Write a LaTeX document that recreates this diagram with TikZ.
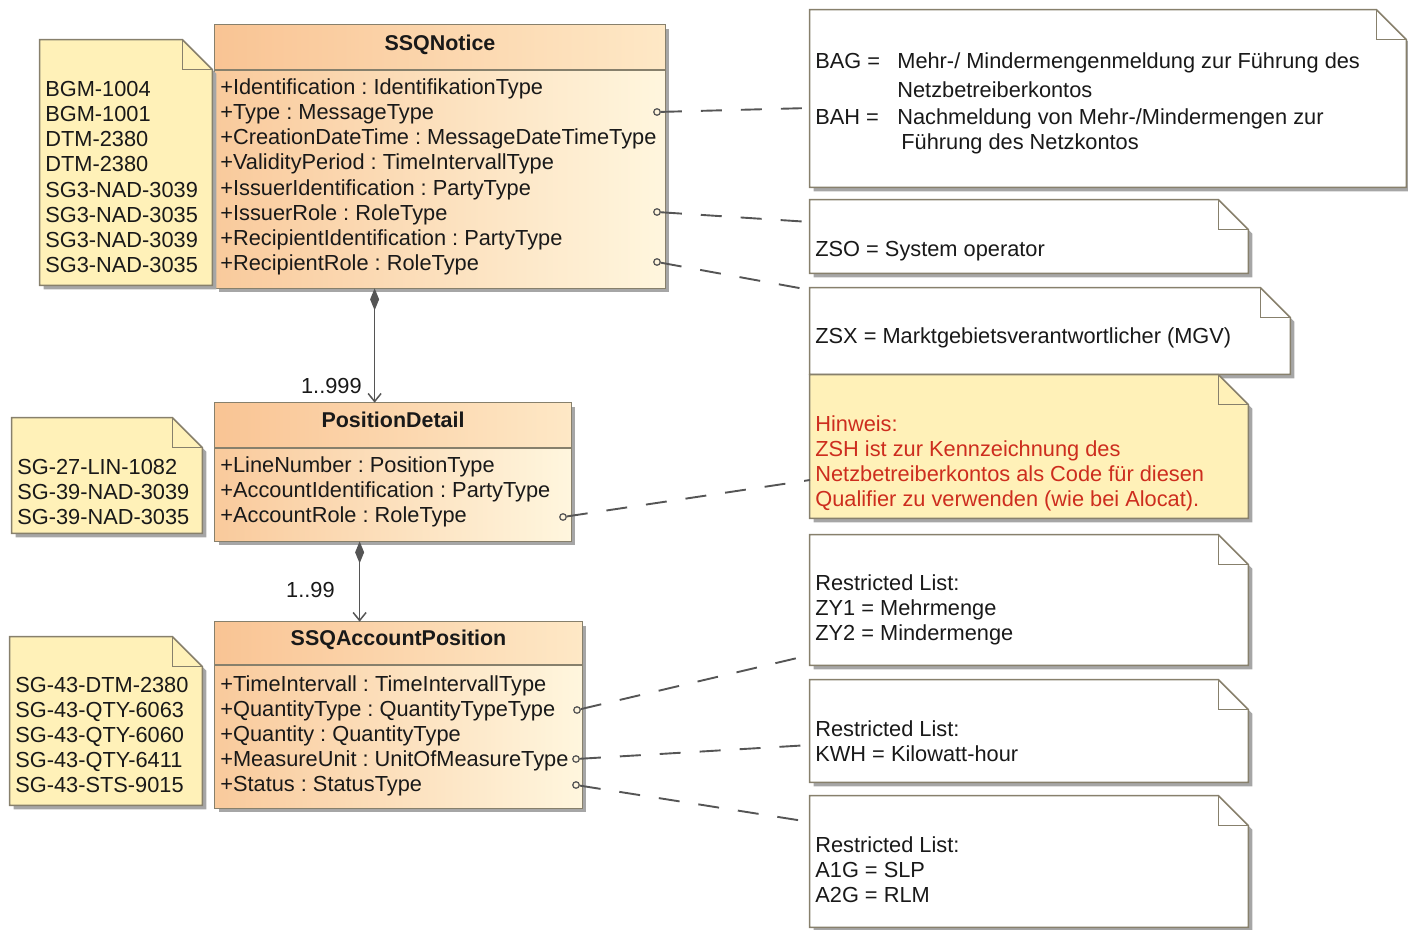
\documentclass[tikz,border=0pt]{standalone}
\usepackage{fontspec}
\setmainfont{Liberation Sans}
\usetikzlibrary{arrows.meta,fit,shadows}

\definecolor{clsleft}{RGB}{249,202,156}
\definecolor{clsright}{RGB}{255,246,222}
\definecolor{hdrleft}{RGB}{249,196,148}
\definecolor{hdrright}{RGB}{254,232,198}
\definecolor{noteyellow}{RGB}{255,241,184}
\definecolor{frame}{RGB}{135,128,108}
\definecolor{linegray}{RGB}{85,85,85}
\definecolor{hintred}{RGB}{205,45,30}

% note with folded corner, drawn round a fitted node
\newcommand{\notepath}[2]{%
  \path[draw=frame, line width=0.03cm, fill=#2,
    drop shadow={shadow xshift=0.08cm, shadow yshift=-0.08cm, fill=black!35, opacity=1}]
    (#1.north west) -- ([xshift=-0.6cm]#1.north east) -- ([yshift=-0.6cm]#1.north east)
    -- (#1.south east) -- (#1.south west) -- cycle;
  \draw[frame, line width=0.03cm] ([xshift=-0.6cm]#1.north east) |- ([yshift=-0.6cm]#1.north east);
}

\begin{document}
\frenchspacing
\begin{tikzpicture}[x=0.02cm, y=-0.02cm,
    txt/.style = {anchor=base west, inner sep=0, text=black!90,
                  font=\fontsize{12.4}{14}\selectfont},
    title/.style = {txt, anchor=base, font=\fontsize{12.2}{14}\selectfont\bfseries},
    area/.style = {inner sep=0},
    cls/.style = {inner sep=0, left color=clsleft, right color=clsright,
                  drop shadow={shadow xshift=0.08cm, shadow yshift=-0.08cm, fill=black!35, opacity=1}},
    hdr/.style = {left color=hdrleft, right color=hdrright},
    edge/.style = {draw=frame, line width=0.03cm},
    pinmark/.style = {circle, draw=linegray, line width=0.025cm, minimum size=0.13cm, inner sep=0},
    anno/.style = {draw=linegray, line width=0.038cm, dash pattern=on 0.42cm off 0.38cm},
    comp/.style = {draw=linegray, line width=0.03cm,
                   {Diamond[length=0.44cm, width=0.18cm, fill=linegray]}-{Straight Barb[length=0.16cm, width=0.26cm]}}]

\useasboundingbox (0,0) rectangle (1408,929);

% classes
\node[cls, fit={(215,25) (665,288)}] (notice) {};
\shade[hdr] (215,25) rectangle (665,70);
\draw[edge] (notice.north west) rectangle (notice.south east) (215,70) -- (665,70);
\node[title] (noticet) at ([yshift=-0.52cm]notice.north) {SSQNotice};
\foreach \a [count=\i from 0] in {+Identification : IdentifikationType, +Type : MessageType,
    +CreationDateTime : MessageDateTimeType, +ValidityPeriod : TimeIntervallType,
    +IssuerIdentification : PartyType, +IssuerRole : RoleType,
    +RecipientIdentification : PartyType, +RecipientRole : RoleType}
  \node[txt] (noticea\i) at (220,95+25*\i) {\a};

\node[cls, fit={(215,403) (571,541)}] (pdetail) {};
\shade[hdr] (215,403) rectangle (571,448);
\draw[edge] (pdetail.north west) rectangle (pdetail.south east) (215,448) -- (571,448);
\node[title] (pdetailt) at ([yshift=-0.5cm]pdetail.north) {PositionDetail};
\foreach \a [count=\i from 0] in {+LineNumber : PositionType,
    +AccountIdentification : PartyType, +AccountRole : RoleType}
  \node[txt] (pdetaila\i) at (220,472+25*\i) {\a};

\node[cls, fit={(215,622) (582,808)}] (accpos) {};
\shade[hdr] (215,622) rectangle (582,665);
\draw[edge] (accpos.north west) rectangle (accpos.south east) (215,665) -- (582,665);
\node[title] (accpost) at ([yshift=-0.48cm]accpos.north) {SSQAccountPosition};
\foreach \a [count=\i from 0] in {+TimeIntervall : TimeIntervallType,
    +QuantityType : QuantityTypeType, +Quantity : QuantityType,
    +MeasureUnit : UnitOfMeasureType, +Status : StatusType}
  \node[txt] (accposa\i) at (220,691+25*\i) {\a};

% compositions
\draw[comp] ([xshift=3.2cm]notice.south west) -- ([xshift=3.2cm]pdetail.north west);
\node[txt, anchor=base east] (mult1) at (362,393) {1..999};
\draw[comp] ([xshift=2.9cm]pdetail.south west) -- ([xshift=2.9cm]accpos.north west);
\node[txt, anchor=base east] (mult2) at (335,597) {1..99};

% segment notes
\node[area, fit={(40,40) (212,285)}] (lnote1) {};
\notepath{lnote1}{noteyellow}
\foreach \t [count=\i from 0] in {BGM-1004, BGM-1001, DTM-2380, DTM-2380,
    SG3-NAD-3039, SG3-NAD-3035, SG3-NAD-3039, SG3-NAD-3035}
  \node[txt] (lnote1t\i) at (45,97+25*\i) {\t};

\node[area, fit={(12,418) (202,533)}] (lnote2) {};
\notepath{lnote2}{noteyellow}
\foreach \t [count=\i from 0] in {SG-27-LIN-1082, SG-39-NAD-3039, SG-39-NAD-3035}
  \node[txt] (lnote2t\i) at (17,474+25*\i) {\t};

\node[area, fit={(10,637) (202,805)}] (lnote3) {};
\notepath{lnote3}{noteyellow}
\foreach \t [count=\i from 0] in {SG-43-DTM-2380, SG-43-QTY-6063, SG-43-QTY-6060,
    SG-43-QTY-6411, SG-43-STS-9015}
  \node[txt] (lnote3t\i) at (15,692+25*\i) {\t};

% code notes
\node[area, fit={(810,10) (1406,187)}] (rnote1) {};
\notepath{rnote1}{white}
\node[txt] (rnote1a) at (815,69) {BAG =};
\node[txt] (rnote1b) at (897,69) {Mehr-/ Mindermengenmeldung zur Führung des};
\node[txt] (rnote1c) at (897,98) {Netzbetreiberkontos};
\node[txt] (rnote1d) at (815,125) {BAH =};
\node[txt] (rnote1e) at (897,125) {Nachmeldung von Mehr-/Mindermengen zur};
\node[txt] (rnote1f) at (901,150) {Führung des Netzkontos};

\node[area, fit={(810,200) (1248,273)}] (rnote2) {};
\notepath{rnote2}{white}
\node[txt] (rnote2a) at (815,256) {ZSO = System operator};

\node[area, fit={(810,288) (1290,374)}] (rnote3) {};
\notepath{rnote3}{white}
\node[txt] (rnote3a) at (815,343) {ZSX = Marktgebietsverantwortlicher (MGV)};

\node[area, fit={(810,375) (1248,518)}] (rnote4) {};
\notepath{rnote4}{noteyellow}
\foreach \t [count=\i from 0] in {Hinweis:, ZSH ist zur Kennzeichnung des,
    Netzbetreiberkontos als Code für diesen, Qualifier zu verwenden (wie bei Alocat).}
  \node[txt, text=hintred] (rnote4t\i) at (815,431+25*\i) {\t};

\node[area, fit={(810,535) (1248,665)}] (rnote5) {};
\notepath{rnote5}{white}
\foreach \t [count=\i from 0] in {Restricted List:, ZY1 = Mehrmenge, ZY2 = Mindermenge}
  \node[txt] (rnote5t\i) at (815,590+25*\i) {\t};

\node[area, fit={(810,680) (1248,782)}] (rnote6) {};
\notepath{rnote6}{white}
\foreach \t [count=\i from 0] in {Restricted List:, KWH = Kilowatt-hour}
  \node[txt] (rnote6t\i) at (815,736+25*\i) {\t};

\node[area, fit={(810,796) (1248,927)}] (rnote7) {};
\notepath{rnote7}{white}
\foreach \t [count=\i from 0] in {Restricted List:, A1G = SLP, A2G = RLM}
  \node[txt] (rnote7t\i) at (815,852+25*\i) {\t};

% anchors to notes
\foreach \mx/\my/\nx/\ny [count=\k] in {657/112/810/108, 657/212/810/222, 657/262/810/290,
    563/517/810/480, 577/710/810/655, 576/759/810/745, 576/785/810/822} {
  \node[pinmark] (mk\k) at (\mx,\my) {};
  \coordinate (nc\k) at (\nx,\ny);
  \draw[anno] (mk\k) -- (nc\k);
}
\end{tikzpicture}
\end{document}
